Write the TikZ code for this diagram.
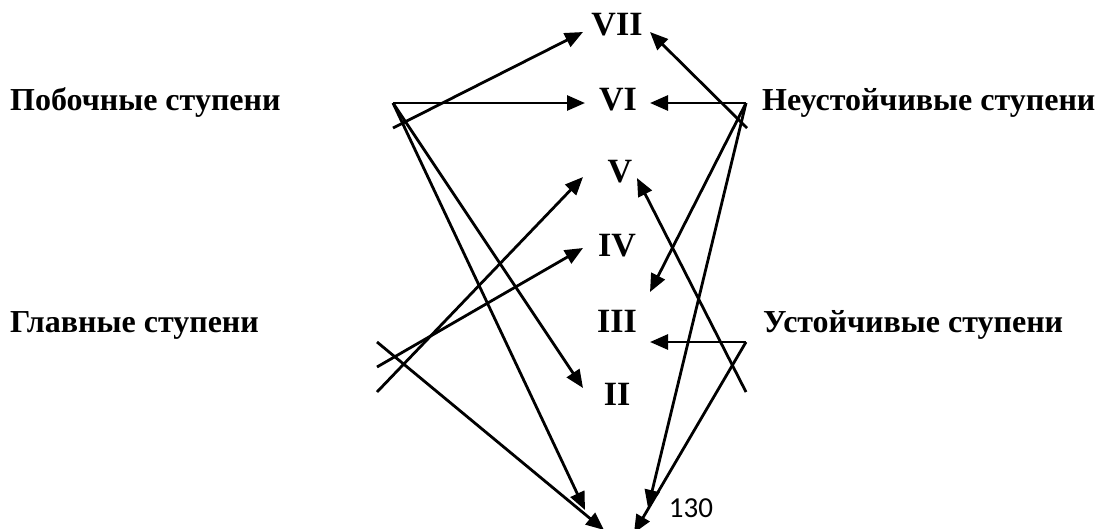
\documentclass[tikz,border=0pt]{standalone}
\usepackage{fontspec}
\setmainfont{Liberation Serif}
\newfontfamily\pagefont{Carlito}
\usetikzlibrary{arrows.meta, calc}

\begin{document}
\begin{tikzpicture}[
    x=1pt, y=-1pt,
    stagename/.style={anchor=base west, inner sep=0pt, font=\fontsize{32}{38}\selectfont\bfseries},
    numeral/.style={inner sep=0pt, font=\fontsize{34}{40}\selectfont\bfseries},
    line/.style={draw, -{Triangle[length=18pt, width=15pt]}, line width=2.8pt}
]
    \useasboundingbox (0,0) rectangle (1098,528);

    \node [stagename] (side)     at (10,110)  {Побочные ступени};
    \node [stagename] (unstable) at (762,110) {Неустойчивые ступени};
    \node [stagename] (main)     at (10,332)  {Главные ступени};
    \node [stagename] (stable)   at (763,332) {Устойчивые ступени};

    \node [numeral] (vii) at (617,25)  {VII};
    \node [numeral] (vi)  at (618,100) {VI};
    \node [numeral] (v)   at (620,172) {V};
    \node [numeral] (iv)  at (617,246) {IV};
    \node [numeral] (iii) at (617,321) {III};
    \node [numeral] (ii)  at (617,394) {II};
    \coordinate (i) at (617,545);

    \node [font=\pagefont\fontsize{29}{34}\selectfont, inner sep=0pt] (page) at (691,508) {130};

    \coordinate (lt) at (393,103);
    \coordinate (ls) at (393,128);
    \coordinate (rt) at (746,103);
    \coordinate (rs) at (747,128);
    \coordinate (la) at (377,342);
    \coordinate (lb) at (377,367);
    \coordinate (lc) at (377,392);
    \coordinate (ra) at (746,342);
    \coordinate (rc) at (746,392);

    \path [line] (ls) -- ($(vii)+(-34,7)$);
    \path [line] (lt) -- ($(vi)+(-33,3)$);
    \path [line] (lt) -- ($(ii)+(-34,-6)$);
    \path [line] (lt) -- ($(i)+(-32,-35)$);

    \path [line] (rs) -- ($(vii)+(33,7)$);
    \path [line] (rt) -- ($(vi)+(32,3)$);
    \path [line] (rt) -- ($(iii)+(33,-29)$);
    \path [line] (rt) -- ($(i)+(31,-37)$);

    \path [line] (la) -- ($(i)+(-13,-15)$);
    \path [line] (lb) -- ($(iv)+(-34,2)$);
    \path [line] (lc) -- ($(v)+(-37,5)$);

    \path [line] (ra) -- ($(iii)+(33,21)$);
    \path [line] (ra) -- ($(i)+(17,-12)$);
    \path [line] (rc) -- ($(v)+(17,6)$);
\end{tikzpicture}
\end{document}
